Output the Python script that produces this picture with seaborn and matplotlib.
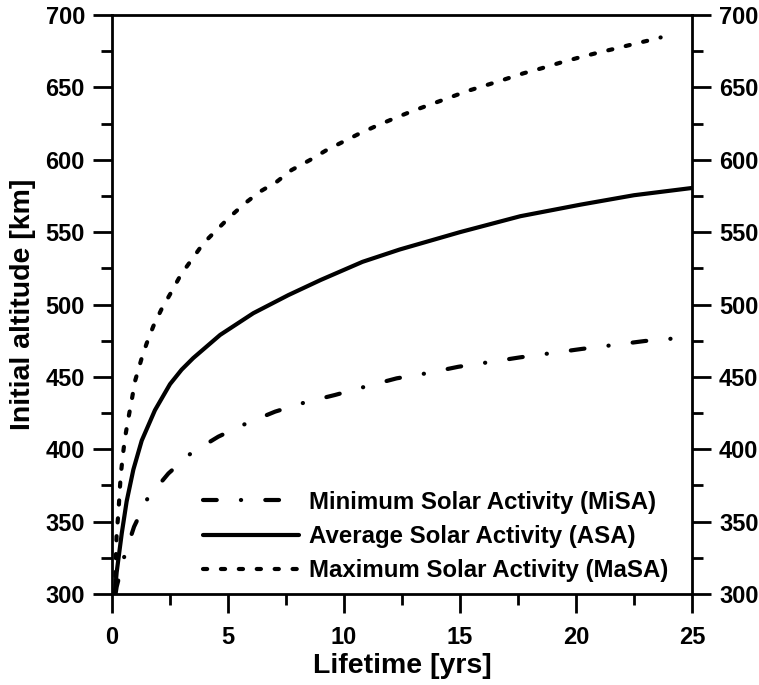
import matplotlib
matplotlib.use('Agg')
import matplotlib.pyplot as plt
import seaborn as sns
from matplotlib.ticker import MultipleLocator

# ---- data ----
labels = ['Minimum Solar Activity (MiSA)',
          'Average Solar Activity (ASA)',
          'Maximum Solar Activity (MaSA)']

misa_x = [0.15, 0.2, 0.53, 0.95, 1.53, 2.43, 3.4, 4.58, 5.81, 7.03, 8.32, 9.61,
          10.9, 12.27, 13.56, 14.93, 16.22, 17.59, 18.88, 20.24, 21.61, 22.97,
          24.27, 24.85]
misa_y = [300, 305, 326, 346.5, 366, 383.3, 397.2, 408.7, 418, 426, 432.4, 437.5,
          443.2, 449, 452.5, 457, 460.1, 463.5, 466.3, 469.3, 472, 474.8,
          476.6, 477.5]

asa_x = [0.12, 0.2, 0.42, 0.63, 0.92, 1.28, 1.85, 2.5, 3.0, 3.5, 4.66, 6.09, 7.6,
         9.0, 10.8, 12.4, 15.0, 17.6, 20.2, 22.5, 25.0]
asa_y = [300, 315, 342, 364, 386, 406, 427, 445, 455, 463, 479, 494, 506.5,
         517, 529.5, 538, 550, 561, 569, 575.5, 580.5]

masa_x = [0.13, 0.17, 0.2, 0.27, 0.32, 0.37, 0.46, 0.56, 0.7, 0.85, 0.99, 1.28,
          1.49, 1.78, 2.14, 2.57, 2.96, 3.94, 4.51, 5.09, 5.73, 6.38, 7.1, 7.74,
          8.53, 9.25, 9.97, 10.69, 11.48, 12.27, 12.99, 13.78, 14.57, 15.36,
          16.15, 16.94, 17.73, 18.52, 19.31, 20.17, 20.96, 21.75, 22.6, 23.4,
          23.65]
masa_y = [300, 328, 342, 355, 368, 381, 395, 408, 421, 434, 447, 463,
          473, 485, 497, 509, 520.4, 542.3, 551.5, 560.7, 569.9, 578, 584.8, 592.9,
          599.8, 606.7, 612.5, 618.3, 624, 629.3, 633.9, 638.5, 643.1, 647.7,
          651.6, 655.6, 659.7, 663.2, 667, 670.8, 674, 677, 680.4, 683.4,
          684.5]

sns.set_style('ticks')
plt.rcParams['font.family'] = ['Liberation Sans', 'DejaVu Sans']
plt.rcParams['font.weight'] = 'bold'
plt.rcParams['axes.labelweight'] = 'bold'
plt.rcParams['text.color'] = 'black'
plt.rcParams['axes.labelcolor'] = 'black'
plt.rcParams['xtick.color'] = 'black'
plt.rcParams['ytick.color'] = 'black'
plt.rcParams['xtick.labelcolor'] = 'black'
plt.rcParams['ytick.labelcolor'] = 'black'

fig = plt.figure(figsize=(7.59, 6.85), dpi=100)
ax = fig.add_axes([0.1476, 0.1328, 0.7641, 0.8453])

lw = 3.0
sns.lineplot(x=misa_x, y=misa_y, ax=ax, color='black', lw=lw, sort=False,
             linestyle=(0, (3.3, 5.8, 0.05, 5.8)), dash_capstyle='round',
             label=labels[0])
sns.lineplot(x=asa_x, y=asa_y, ax=ax, color='black', lw=lw, sort=False,
             linestyle='-', label=labels[1])
sns.lineplot(x=masa_x, y=masa_y, ax=ax, color='black', lw=lw, sort=False,
             linestyle=(0, (1.0, 3.3)), dash_capstyle='round',
             label=labels[2])

ax.set_xlim(0, 25)
ax.set_ylim(300, 700)
ax.xaxis.set_major_locator(MultipleLocator(5))
ax.xaxis.set_minor_locator(MultipleLocator(2.5))
ax.yaxis.set_major_locator(MultipleLocator(50))
ax.yaxis.set_minor_locator(MultipleLocator(25))

for s in ax.spines.values():
    s.set_visible(True)
    s.set_linewidth(2)
    s.set_color('black')

ax.tick_params(which='both', direction='out', width=2, color='black',
               left=True, right=True, bottom=True, top=False,
               labelleft=True, labelright=True)
ax.tick_params(which='major', length=14, labelsize=17, labelcolor='black')
ax.tick_params(which='minor', length=8)
ax.tick_params(axis='y', which='major', pad=5.5)
ax.tick_params(axis='x', which='major', pad=9)

ax.set_xlabel('Lifetime [yrs]', fontsize=20.5, fontweight='bold', labelpad=3,
              color='black')
ax.set_ylabel('Initial altitude [km]', fontsize=20.5, fontweight='bold',
              labelpad=7, color='black')

leg = ax.legend(loc='lower left', bbox_to_anchor=(0.157, 0.02), frameon=False,
                handlelength=4.0, handletextpad=0.4, labelspacing=0.47,
                borderpad=0, borderaxespad=0,
                prop={'size': 17.3, 'weight': 'bold'})
for t in leg.get_texts():
    t.set_color('black')

fig.savefig('out.png', dpi=100)
